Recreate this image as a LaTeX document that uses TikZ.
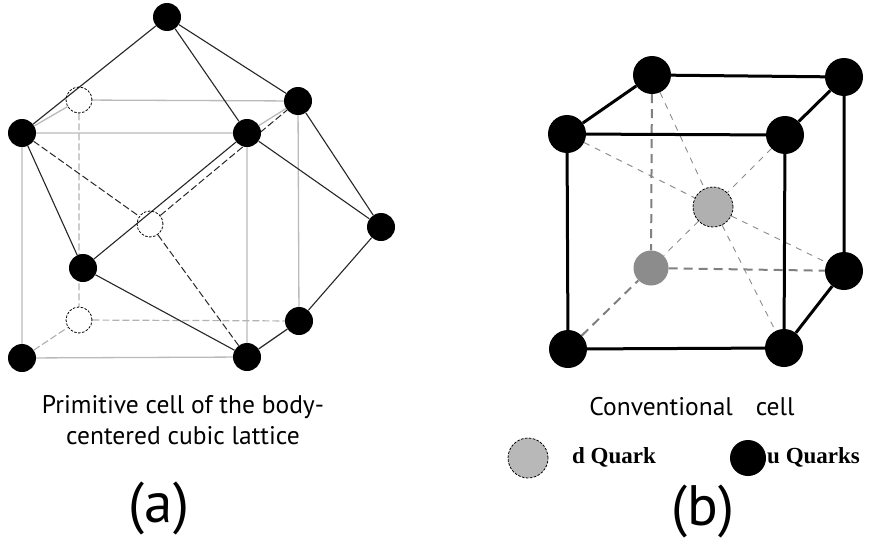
\documentclass[tikz,border=0pt]{standalone}
\usepackage{fontspec}
\setmainfont{PT Sans}
\newfontfamily\legendfont{Liberation Serif}
\usetikzlibrary{backgrounds}
\begin{document}
\begin{tikzpicture}[x=1pt,y=-1pt,
    ua/.style={circle,fill=black,inner sep=0pt,minimum size=28pt},
    oa/.style={circle,draw=black,line width=0.8pt,dash pattern=on 2.5pt off 1.5pt,inner sep=0pt,minimum size=26pt},
    ub/.style={circle,fill=black,inner sep=0pt,minimum size=38pt},
    gline/.style={line width=1.3pt,draw=black!27},
    gdash/.style={line width=1.2pt,draw=black!30,dash pattern=on 7pt off 3pt},
    bline/.style={line width=1.1pt,draw=black!85},
    bdash/.style={line width=1pt,draw=black!85,dash pattern=on 7pt off 3pt},
    edge/.style={line width=3pt,draw=black},
    edash/.style={line width=2pt,draw=black!50,dash pattern=on 9pt off 6pt},
    diag/.style={line width=0.9pt,draw=black!45,dash pattern=on 6pt off 6pt},
    caption/.style={font=\fontsize{25.5}{31}\selectfont,align=center},
    tag/.style={font=\fontsize{57}{60}\selectfont},
    legend/.style={font=\legendfont\bfseries\fontsize{23}{25}\selectfont,anchor=west,inner sep=0pt}]
  \useasboundingbox (0,0) rectangle (869,546);

  \node (atop)   at (167, 17)  [ua] {};
  \node (ablt)   at ( 22,133)  [ua] {};
  \node (afrt)   at (247,133)  [ua] {};
  \node (abbt)   at ( 79,100)  [oa] {};
  \node (abrt)   at (298,101)  [ua] {};
  \node (acen)   at (150,224)  [oa] {};
  \node (aright) at (381,227)  [ua] {};
  \node (amid)   at ( 83,268)  [ua] {};
  \node (abbb)   at ( 79,320)  [oa] {};
  \node (abrb)   at (299,321)  [ua] {};
  \node (aflb)   at ( 22,358)  [ua] {};
  \node (afrb)   at (247,357)  [ua] {};

  \begin{scope}[on background layer]
    \draw[gline] (ablt) -- (afrt) -- (afrb) -- (aflb) -- (ablt);
    \draw[gline] (ablt) -- (abbt) -- (abrt) -- (abrb);
    \draw[gline] (afrt) -- (abrt);
    \draw[gline] (afrb) -- (abrb);
    \draw[gdash] (abbt) -- (abbb) -- (abrb);
    \draw[gdash] (aflb) -- (abbb);

    \draw[bline] (ablt) -- (atop) -- (abrt) -- (aright) -- (abrb) -- (afrb);
    \draw[bline] (atop) -- (afrt) -- (aright);
    \draw[bline] (ablt) -- (amid) -- (afrt);
    \draw[bline] (amid) -- (afrb);
    \draw[bdash] (ablt) -- (acen) -- (afrb);
    \draw[bdash] (acen) -- (abrt);
  \end{scope}

  \node (cap1) at (183,420) [caption] {Primitive cell of the body-\\centered cubic lattice};
  \node (taga) at (159,508) [tag] {(a)};

  \node (bkl)  at (652, 75) [ub] {};
  \node (bkr)  at (844, 77) [ub] {};
  \node (btl)  at (567,134) [ub] {};
  \node (btr)  at (785,135) [ub] {};
  \node (bcen) at (713,207) [circle,fill=black!31,draw=black,line width=0.8pt,dash pattern=on 2.5pt off 1.5pt,inner sep=0pt,minimum size=40pt] {};
  \node (bkbl) at (651,268) [circle,fill=black!45,inner sep=0pt,minimum size=35pt] {};
  \node (bkbr) at (844,271) [ub] {};
  \node (bbl)  at (568,349) [ub] {};
  \node (bbr)  at (784,348) [ub] {};

  \begin{scope}[on background layer]
    \draw[diag] (btl) -- (bcen) -- (bkbr);
    \draw[diag] (bkl) -- (bcen) -- (bbr);
    \draw[diag] (btr) -- (bcen) -- (bkbl);
    \draw[edash] (bkl) -- (bkbl) -- (bkbr);
    \draw[edash] (bbl) -- (bkbl);
    \draw[edge] (btl) -- (btr) -- (bbr) -- (bbl) -- (btl);
    \draw[edge] (btl) -- (bkl) -- (bkr) -- (btr);
    \draw[edge] (bkr) -- (bkbr) -- (bbr);
  \end{scope}

  \node (cap2) at (692,407) [caption] {Conventional\hspace{0.9em}cell};
  \node (dleg) at (528,458) [circle,fill=black!28,draw=black,line width=0.8pt,dash pattern=on 2.5pt off 1.5pt,inner sep=0pt,minimum size=40pt] {};
  \node (dtxt) at (572,457) [legend] {d Quark};
  \node (uleg) at (748,458) [circle,fill=black,inner sep=0pt,minimum size=36pt] {};
  \node (utxt) at (767,457) [legend] {u Quarks};
  \node (tagb) at (703,511) [tag] {(b)};
\end{tikzpicture}
\end{document}
